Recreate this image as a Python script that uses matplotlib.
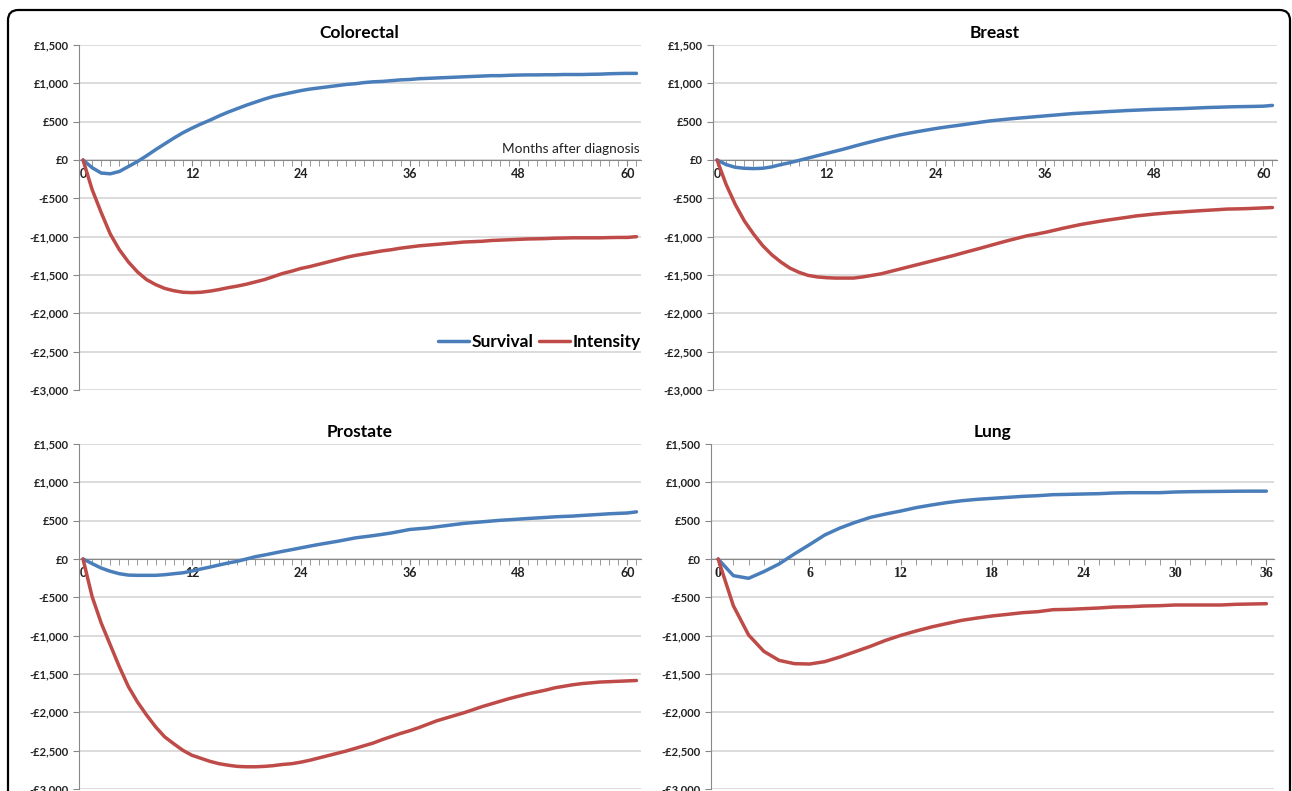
import matplotlib
matplotlib.use("Agg")
import matplotlib.pyplot as plt
from matplotlib.patches import FancyBboxPatch
from matplotlib.ticker import FuncFormatter, MultipleLocator

# monthly net cost per patient, months 0..61 (lung 0..36)
colorectal_survival = [0, -100, -170, -180, -150, -85, -20, 55, 135, 210, 285, 355, 415, 470, 520, 575,
                       625, 670, 715, 755, 795, 830, 855, 880, 905, 925, 940, 955, 970, 985, 995, 1010,
                       1020, 1025, 1035, 1045, 1050, 1060, 1065, 1070, 1075, 1080, 1085, 1090, 1095, 1100,
                       1100, 1105, 1108, 1110, 1110, 1112, 1112, 1115, 1115, 1115, 1118, 1120, 1125, 1128,
                       1130, 1130]
colorectal_intensity = [0, -385, -685, -965, -1170, -1330, -1460, -1560, -1625, -1675, -1705, -1725, -1730,
                        -1725, -1710, -1690, -1665, -1645, -1620, -1590, -1560, -1520, -1480, -1450, -1415,
                        -1390, -1360, -1330, -1300, -1270, -1245, -1225, -1205, -1185, -1170, -1150, -1135,
                        -1120, -1110, -1100, -1090, -1080, -1070, -1065, -1060, -1050, -1045, -1040, -1035,
                        -1030, -1028, -1025, -1020, -1018, -1015, -1015, -1015, -1015, -1012, -1010, -1010,
                        -1000]
breast_survival = [0, -60, -95, -108, -112, -108, -90, -60, -35, -5, 25, 55, 85, 115, 145, 178, 210, 240,
                   270, 298, 325, 348, 370, 390, 410, 428, 444, 460, 477, 494, 510, 522, 534, 545, 555, 565,
                   575, 585, 595, 605, 612, 618, 625, 632, 638, 645, 650, 655, 660, 663, 667, 670, 675, 680,
                   685, 688, 692, 695, 697, 699, 702, 712]
breast_intensity = [0, -320, -580, -795, -965, -1115, -1235, -1330, -1410, -1465, -1505, -1525, -1535, -1540,
                    -1540, -1540, -1525, -1505, -1485, -1455, -1425, -1395, -1365, -1335, -1305, -1275, -1245,
                    -1212, -1180, -1148, -1115, -1082, -1050, -1020, -990, -968, -945, -918, -890, -865, -840,
                    -820, -800, -782, -765, -748, -730, -718, -705, -695, -685, -678, -670, -662, -655, -648,
                    -640, -638, -635, -630, -625, -620]
prostate_survival = [0, -60, -118, -160, -192, -210, -213, -213, -213, -205, -192, -180, -157, -130, -105, -78,
                     -52, -30, 0, 30, 52, 76, 100, 122, 145, 168, 190, 210, 230, 252, 275, 290, 305, 322, 340,
                     362, 385, 395, 405, 420, 435, 450, 465, 475, 485, 495, 505, 512, 520, 528, 535, 542, 550,
                     555, 560, 568, 575, 582, 590, 595, 600, 615]
prostate_intensity = [0, -490, -835, -1120, -1405, -1665, -1865, -2035, -2190, -2320, -2410, -2495, -2560,
                      -2600, -2640, -2670, -2690, -2705, -2710, -2710, -2705, -2695, -2680, -2670, -2650, -2625,
                      -2595, -2565, -2535, -2505, -2470, -2435, -2400, -2355, -2315, -2275, -2240, -2200, -2155,
                      -2110, -2075, -2040, -2005, -1965, -1925, -1890, -1855, -1820, -1790, -1760, -1735, -1710,
                      -1680, -1660, -1640, -1625, -1615, -1605, -1600, -1595, -1590, -1585]
lung_survival = [0, -217, -252, -165, -65, 65, 187, 313, 404, 478, 543, 587, 626, 670, 704, 735, 760, 778,
                 791, 804, 817, 826, 839, 843, 848, 852, 861, 865, 865, 865, 874, 878, 880, 882, 884, 885, 885]
lung_intensity = [0, -609, -991, -1204, -1322, -1365, -1370, -1339, -1278, -1209, -1139, -1061, -996, -939,
                  -887, -843, -800, -770, -743, -722, -700, -687, -661, -657, -648, -639, -626, -622, -613,
                  -609, -600, -600, -600, -600, -591, -587, -583]

titles = ["Colorectal", "Breast", "Prostate", "Lung"]
series_names = ["Survival", "Intensity"]

BLUE = "#4A7EBB"
RED = "#BE4B48"
W, H = 1292, 791

plt.rcParams['font.family'] = ['Lato', 'DejaVu Sans']

fig = plt.figure(figsize=(W / 100, H / 100), dpi=100)

# rounded frame around the whole figure (open at the bottom)
frame = FancyBboxPatch((8 / W, -0.1), (1290 - 8) / W, 1.1 - 10 / H,
                       boxstyle="round,pad=0,rounding_size=0.008", mutation_aspect=W / H,
                       transform=fig.transFigure, fill=False, ec="black", lw=1.6)
fig.patches.append(frame)

# (left px, right px, top px, bottom px)
boxes = [(78.5, 641, 45, 390), (712.5, 1277, 45, 390), (78.5, 641, 444, 789), (710.5, 1274, 444, 789)]
panels = [(colorectal_survival, colorectal_intensity), (breast_survival, breast_intensity),
          (prostate_survival, prostate_intensity), (lung_survival, lung_intensity)]


def money(v, pos):
    if v < 0:
        return "-£{:,.0f}".format(abs(v))
    return "£{:,.0f}".format(v)


for i, (surv, inten) in enumerate(panels):
    l, r, t, b = boxes[i]
    ax = fig.add_axes([l / W, (H - b) / H, (r - l) / W, (b - t) / H])
    months = list(range(len(surv)))
    ax.plot(months, surv, color=BLUE, lw=2.5, label=series_names[0], solid_capstyle="round")
    ax.plot(months, inten, color=RED, lw=2.5, label=series_names[1], solid_capstyle="round")

    ax.set_xlim(-0.5, len(surv) - 0.5)
    ax.set_ylim(-3000, 1500)
    ax.yaxis.set_major_locator(MultipleLocator(500))
    ax.yaxis.set_major_formatter(FuncFormatter(money))
    ax.yaxis.grid(True, color="#D9D9D9", lw=1.3)
    ax.set_axisbelow(True)

    step = 6 if i == 3 else 12
    ax.xaxis.set_major_locator(MultipleLocator(step))
    ax.xaxis.set_minor_locator(MultipleLocator(1))

    for s in ["top", "right"]:
        ax.spines[s].set_visible(False)
    ax.spines["bottom"].set_position(("data", 0))
    ax.spines["bottom"].set_color("#888888")
    ax.spines["left"].set_color("#888888")
    ax.spines["bottom"].set_zorder(1)

    ax.tick_params(axis="x", which="both", direction="out", length=4, color="#888888", pad=2)
    ax.tick_params(axis="y", direction="out", length=4, color="#888888", pad=3)
    for lab in ax.get_yticklabels():
        lab.set_fontsize(8)
        lab.set_fontweight("bold")
        lab.set_color("#222222")
    for lab in ax.get_xticklabels():
        lab.set_fontsize(9)
        lab.set_fontweight("bold")
        lab.set_color("#222222")
        if i == 3:
            lab.set_family("Liberation Serif")
            lab.set_fontsize(10)

    ax.set_title(titles[i], fontsize=12.5, fontweight="bold", pad=5)

    if i == 0:
        ax.text(61.3, 60, "Months after diagnosis", ha="right", va="bottom", fontsize=9.8, color="#222222")
        ax.legend(loc="center right", bbox_to_anchor=(1.012, 0.139), ncol=2, frameon=False,
                  borderaxespad=0, handlelength=1.8, handletextpad=0.15, columnspacing=0.3,
                  prop={"size": 12.5, "weight": "bold"})

fig.savefig("out.png", dpi=100)
